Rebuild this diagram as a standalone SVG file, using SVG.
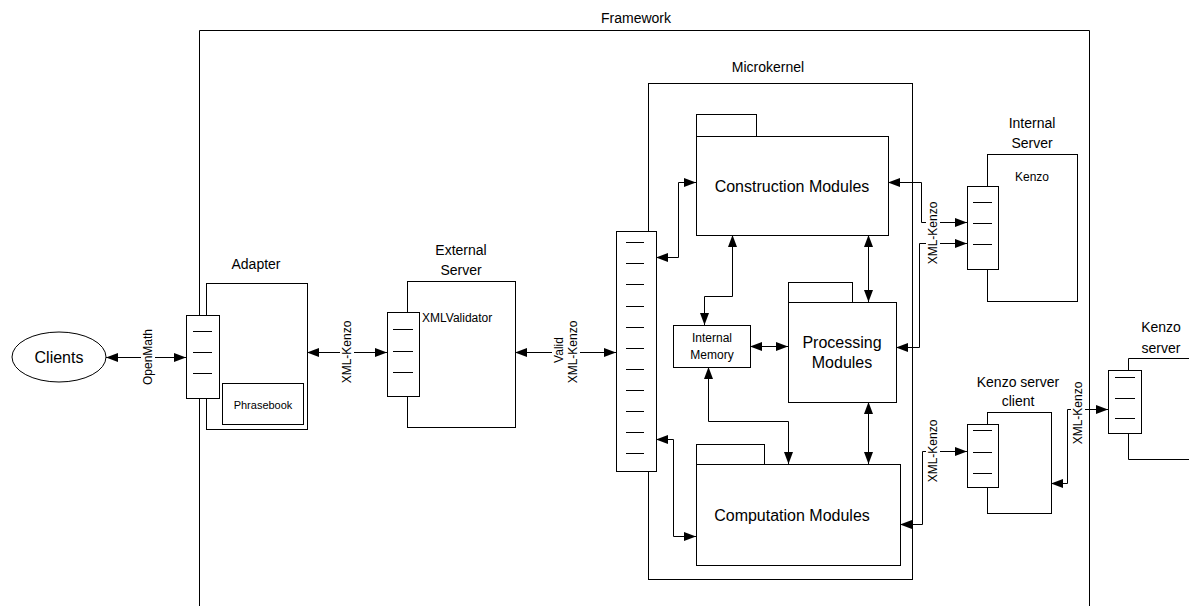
<svg xmlns="http://www.w3.org/2000/svg" width="1189" height="606" viewBox="0 0 1189 606">
<style>
.box{fill:#fff;stroke:#000;stroke-width:1}
.open{fill:none;stroke:#000;stroke-width:1}
.ln{stroke:#000;stroke-width:1;fill:none}
.c{fill:none;stroke:#000;stroke-width:1;marker-start:url(#ah);marker-end:url(#ah)}
.t{font-family:"Liberation Sans",Arial,sans-serif;fill:#000;text-anchor:middle}
.t14{font-size:14px}
.t16{font-size:16px}
.t12{font-size:12px}
.t11{font-size:11px}
.bg{fill:#fff;stroke:none}
</style>
<defs>
<marker id="ah" markerUnits="userSpaceOnUse" markerWidth="14" markerHeight="10" refX="12" refY="4.5" orient="auto-start-reverse">
<path d="M0,0 L12,4.5 L0,9 z" fill="#000"/>
</marker>
</defs>
<rect width="1189" height="606" fill="#fff"/>

<g id="framework">
<path class="open" d="M199.5,606 V30.5 H1089.5 V606"/>
<text class="t t14" x="636" y="23">Framework</text>
</g>

<g id="microkernel">
<rect class="box" x="648.5" y="83.5" width="264" height="496"/>
<text class="t t14" x="768" y="72">Microkernel</text>
</g>

<g id="clients">
<ellipse class="box" cx="59" cy="357" rx="47" ry="25"/>
<text class="t t16" x="59" y="363">Clients</text>
</g>

<g id="adapter">
<rect class="box" x="206.5" y="283.5" width="101" height="146"/>
<rect class="box" x="222.5" y="383.5" width="81" height="41"/>
<text class="t t11" x="263" y="409">Phrasebook</text>
<rect class="box" x="186.5" y="315.5" width="33" height="83"/>
<path class="ln" d="M193,331.5 H212 M193,352.5 H212 M193,373.5 H212"/>
<text class="t t14" x="256" y="269">Adapter</text>
</g>

<g id="external-server">
<rect class="box" x="407.5" y="281.5" width="108" height="146"/>
<rect class="box" x="387.5" y="312.5" width="32" height="84"/>
<path class="ln" d="M393,329.5 H413 M393,351.5 H413 M393,372.5 H413"/>
<text class="t t12" x="422" y="322" style="text-anchor:start">XMLValidator</text>
<text class="t t14" x="461" y="255">External</text>
<text class="t t14" x="461" y="275">Server</text>
</g>

<g id="microkernel-interface">
<rect class="box" x="616.5" y="231.5" width="40" height="240"/>
<path class="ln" d="M626,242.5 H644 M626,263.5 H644 M626,284.5 H644 M626,306.5 H644 M626,327.5 H644 M626,348.5 H644 M626,369.5 H644 M626,390.5 H644 M626,411.5 H644 M626,432.5 H644 M626,453.5 H644"/>
</g>

<g id="construction-modules">
<rect class="box" x="696.5" y="114.5" width="60" height="22"/>
<rect class="box" x="696.5" y="136.5" width="192" height="99"/>
<text class="t t16" x="792" y="192">Construction Modules</text>
</g>

<g id="processing-modules">
<rect class="box" x="788.5" y="282.5" width="64" height="20"/>
<rect class="box" x="788.5" y="302.5" width="108" height="100"/>
<text class="t t16" x="842" y="348">Processing</text>
<text class="t t16" x="842" y="368">Modules</text>
</g>

<g id="internal-memory">
<rect class="box" x="673.5" y="325.5" width="77" height="42"/>
<text class="t t12" x="712" y="342">Internal</text>
<text class="t t12" x="712" y="359">Memory</text>
</g>

<g id="computation-modules">
<rect class="box" x="696.5" y="444.5" width="68" height="20"/>
<rect class="box" x="696.5" y="464.5" width="204" height="101"/>
<text class="t t16" x="792" y="521">Computation Modules</text>
</g>

<g id="internal-server">
<rect class="box" x="987.5" y="154.5" width="90" height="147"/>
<rect class="box" x="967.5" y="186.5" width="31" height="83"/>
<path class="ln" d="M973,202.5 H992 M973,223.5 H992 M973,244.5 H992"/>
<text class="t t12" x="1032" y="181">Kenzo</text>
<text class="t t14" x="1032" y="128">Internal</text>
<text class="t t14" x="1032" y="148">Server</text>
</g>

<g id="kenzo-server-client">
<rect class="box" x="987.5" y="412.5" width="64" height="101"/>
<rect class="box" x="967.5" y="424.5" width="31" height="63"/>
<path class="ln" d="M973,430.5 H992 M973,452.5 H992 M973,473.5 H992"/>
<text class="t t14" x="1018" y="387">Kenzo server</text>
<text class="t t14" x="1018" y="406">client</text>
</g>

<g id="kenzo-server">
<path class="open" d="M1189,358.5 H1128.5 V459.5 H1189"/>
<rect class="box" x="1108.5" y="370.5" width="33" height="63"/>
<path class="ln" d="M1115,377.5 H1135 M1115,398.5 H1135 M1115,418.5 H1135"/>
<text class="t t14" x="1161" y="332">Kenzo</text>
<text class="t t14" x="1161" y="353">server</text>
</g>

<g id="connectors">
<path class="c" d="M106,357.5 H186"/>
<path class="c" d="M307,352.5 H387"/>
<path class="c" d="M515,352.5 H616"/>
<path class="c" d="M656,257.5 H678.5 V182.5 H696"/>
<path class="c" d="M656,439.5 H673.5 V536.5 H696"/>
<path class="c" d="M732.5,235 V296.5 H704.5 V325"/>
<path class="c" d="M750,346.5 H788"/>
<path class="c" d="M708.5,367 V421.5 H788.5 V464"/>
<path class="c" d="M868.5,235 V302"/>
<path class="c" d="M868.5,402 V464"/>
<path class="c" d="M888,182.5 H921.5 V222.5 H967"/>
<path class="c" d="M896,347.5 H919.5 V243.5 H967"/>
<path class="c" d="M900,524.5 H922.5 V451.5 H967"/>
<path class="c" d="M1051,483.5 H1067.5 V409.5 H1108"/>

<rect class="bg" x="141" y="322" width="14" height="70"/>
<text class="t t12" transform="translate(148,357) rotate(-90)" dominant-baseline="central">OpenMath</text>
<rect class="bg" x="340" y="320" width="14" height="64"/>
<text class="t t12" transform="translate(347,352) rotate(-90)" dominant-baseline="central">XML-Kenzo</text>
<rect class="bg" x="552" y="318" width="28" height="68"/>
<text class="t t12" transform="translate(559,350) rotate(-90)" dominant-baseline="central">Valid</text>
<text class="t t12" transform="translate(573,352) rotate(-90)" dominant-baseline="central">XML-Kenzo</text>
<rect class="bg" x="926" y="200" width="14" height="66"/>
<text class="t t12" transform="translate(933,233) rotate(-90)" dominant-baseline="central">XML-Kenzo</text>
<rect class="bg" x="926" y="418" width="14" height="66"/>
<text class="t t12" transform="translate(933,451) rotate(-90)" dominant-baseline="central">XML-Kenzo</text>
<rect class="bg" x="1071" y="380" width="14" height="66"/>
<text class="t t12" transform="translate(1078,413) rotate(-90)" dominant-baseline="central">XML-Kenzo</text>
</g>
</svg>
